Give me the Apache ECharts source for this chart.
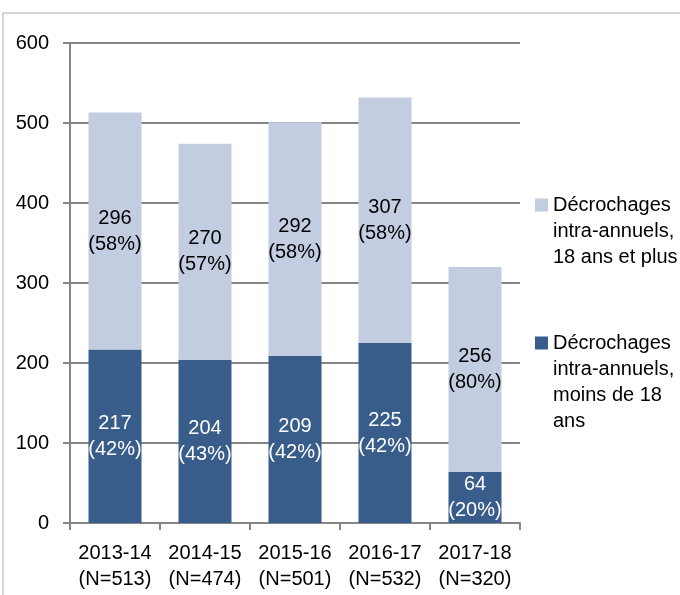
<!DOCTYPE html>
<html>
<head>
<meta charset="utf-8">
<script src="https://cdn.jsdelivr.net/npm/echarts@6/dist/echarts.min.js"></script>
<style>
html, body { margin: 0; padding: 0; background: #fff; }
#chart { width: 680px; height: 595px; }
</style>
</head>
<body>
<div id="chart"></div>
<script>
var years = ['2013-14', '2014-15', '2015-16', '2016-17', '2017-18'];
var under18 = [217, 204, 209, 225, 64];
var over18 = [296, 270, 292, 307, 256];
var nameUnder = 'Décrochages\nintra-annuels,\nmoins de 18\nans';
var nameOver = 'Décrochages\nintra-annuels,\n18 ans et plus';

var totals = years.map(function (y, i) { return under18[i] + over18[i]; });
var font = '"Liberation Sans", Arial, sans-serif';

function pctLabel(p) {
    var pct = Math.round(p.value / totals[p.dataIndex] * 100);
    return p.value + '\n(' + pct + '%)';
}

// push the text down so the square sits next to the first line
function legendText(name) {
    var n = name.split('\n').length;
    return new Array(n).join('\n') + name;
}

var myChart = echarts.init(document.getElementById('chart'));

var option = {
    animation: false,
    textStyle: { fontFamily: font },
    graphic: [{
        type: 'rect',
        shape: { x: 3, y: 13, width: 700, height: 600 },
        style: { fill: 'none', stroke: '#c8c8c8', lineWidth: 1.5 },
        z: -1
    }],
    grid: { left: 70, right: 160, top: 43, bottom: 72 },
    legend: [{
        data: [nameOver],
        orient: 'vertical',
        left: 535,
        top: 140,
        padding: 0,
        icon: 'rect',
        itemWidth: 13,
        itemHeight: 13,
        formatter: legendText,
        textStyle: { fontSize: 20, lineHeight: 26, color: '#000', fontFamily: font }
    }, {
        data: [nameUnder],
        orient: 'vertical',
        left: 535,
        top: 252,
        padding: 0,
        icon: 'rect',
        itemWidth: 13,
        itemHeight: 13,
        formatter: legendText,
        textStyle: { fontSize: 20, lineHeight: 26, color: '#000', fontFamily: font }
    }],
    xAxis: {
        type: 'category',
        data: years,
        axisLine: { lineStyle: { color: '#868686', width: 2 } },
        axisTick: { show: true, length: 7, lineStyle: { color: '#868686', width: 2 } },
        axisLabel: {
            color: '#000',
            fontSize: 20,
            lineHeight: 26,
            margin: 17,
            interval: 0,
            formatter: function (v, i) { return v + '\n(N=' + totals[i] + ')'; }
        }
    },
    yAxis: {
        type: 'value',
        min: 0,
        max: 600,
        interval: 100,
        axisLine: { show: true, lineStyle: { color: '#868686', width: 2 } },
        axisTick: { show: true, length: 7, lineStyle: { color: '#868686', width: 2 } },
        splitLine: { lineStyle: { color: '#868686', width: 2 } },
        axisLabel: { color: '#000', fontSize: 20, margin: 21 }
    },
    series: [{
        name: nameUnder,
        type: 'bar',
        stack: 'total',
        barWidth: 53,
        data: under18,
        itemStyle: { color: '#385D8A' },
        label: {
            show: true,
            position: 'inside',
            color: '#fff',
            fontSize: 20,
            lineHeight: 26,
            formatter: pctLabel
        }
    }, {
        name: nameOver,
        type: 'bar',
        stack: 'total',
        barWidth: 53,
        data: over18,
        itemStyle: { color: '#C2CDE1' },
        label: {
            show: true,
            position: 'inside',
            color: '#000',
            fontSize: 20,
            lineHeight: 26,
            formatter: pctLabel
        }
    }]
};

myChart.setOption(option);
</script>
</body>
</html>
